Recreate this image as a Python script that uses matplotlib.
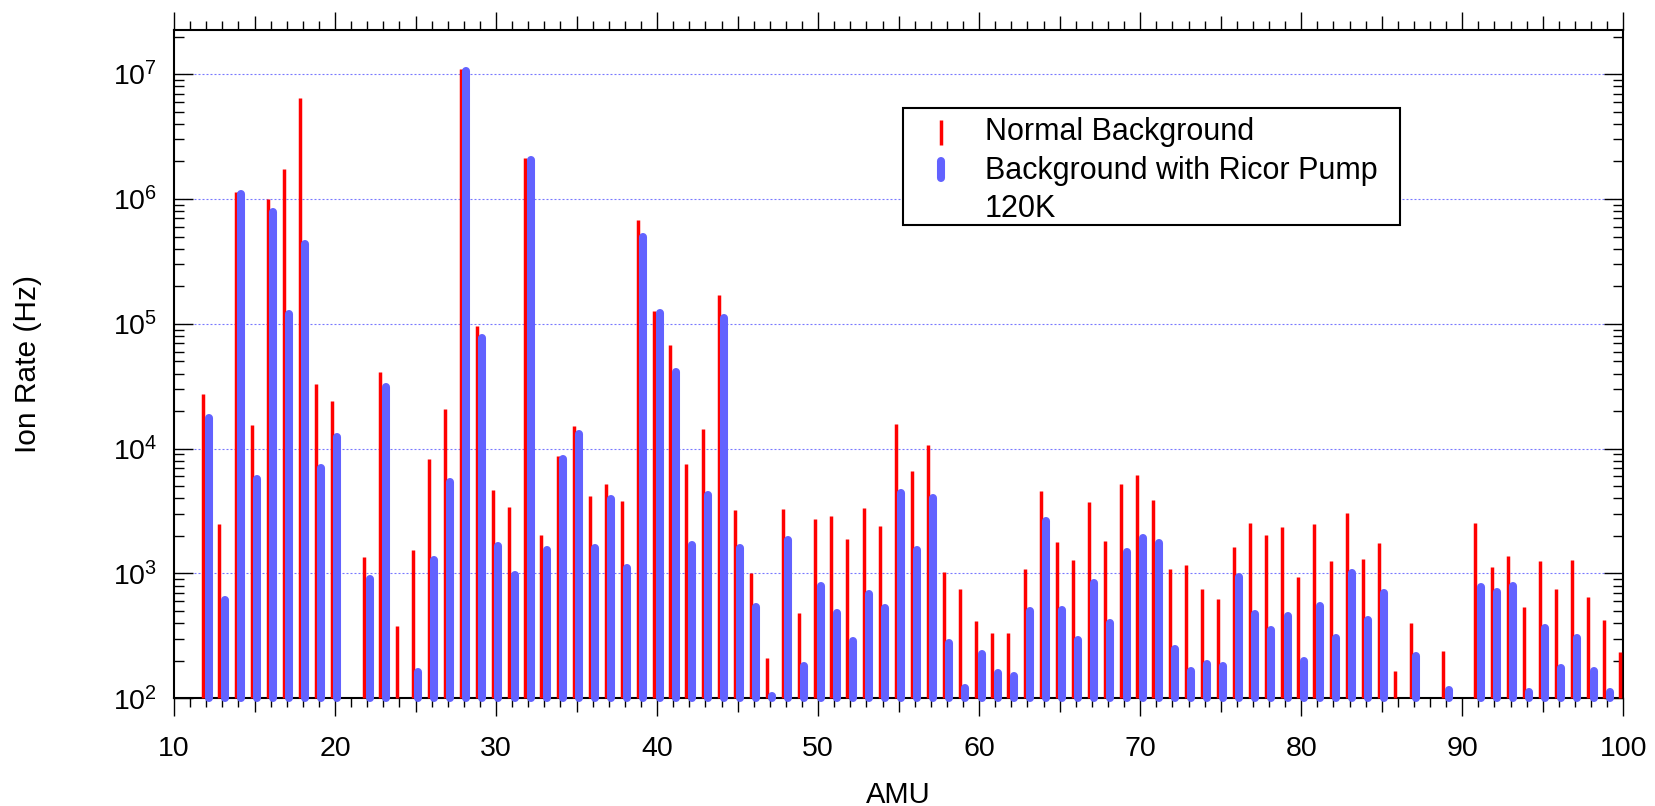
import numpy as np
import matplotlib
matplotlib.use("Agg")
import matplotlib.pyplot as plt
from matplotlib.ticker import MultipleLocator, FixedLocator, FuncFormatter, LogLocator, NullFormatter
from matplotlib.lines import Line2D
from matplotlib.patches import Rectangle

plt.rcParams['font.family'] = ['Liberation Sans', 'DejaVu Sans']
plt.rcParams['mathtext.fontset'] = 'custom'
plt.rcParams['mathtext.rm'] = 'Liberation Sans'
plt.rcParams['mathtext.it'] = 'Liberation Sans:italic'
plt.rcParams['mathtext.bf'] = 'Liberation Sans:bold'

nan = np.nan
amu = np.arange(12, 101)

# Normal Background (Hz)
normal_bg = [
    27200, 2470, 1.14e6, 15600, 1.0e6, 1.75e6, 6.5e6, 32700, 24000, nan,      # 12-21
    1360, 40900, 380, 1555, 8260, 20700, 1.11e7, 95300, 4700, 3420,           # 22-31
    2.15e6, 2025, 8690, 15200, 4180, 5250, 3810, 6.82e5, 1.27e5, 68200,       # 32-41
    7590, 14450, 1.69e5, 3210, 1012, 209, 3310, 479, 2755, 2910,              # 42-51
    1883, 3350, 2390, 15850, 6590, 10630, 1037, 753, 418, 331,                # 52-61
    331, 1096, 4560, 1792, 1279, 3770, 1814, 5190, 6120, 3910,                # 62-71
    1077, 1180, 745, 620, 1635, 2540, 2050, 2362, 929, 2483,                  # 72-81
    1256, 3077, 1318, 1758, 165, 398, nan, 239, nan, 2540,                    # 82-91
    1130, 1376, 535, 1262, 745, 1294, 643, 423, 236,                          # 92-100
]

# Background with Ricor Pump 120K (Hz)
ricor_bg = [
    17500, 615, 1.09e6, 5690, 7.9e5, 1.19e5, 4.37e5, 7060, 12300, nan,        # 12-21
    900, 31100, nan, 161, 1290, 5410, 1.07e7, 77400, 1670, 977,               # 22-31
    2.07e6, 1550, 8230, 13000, 1600, 3940, 1100, 5.0e5, 1.22e5, 41200,        # 32-41
    1700, 4260, 1.11e5, 1590, 535, 104, 1860, 182, 788, 479,                  # 42-51
    286, 684, 525, 4400, 1540, 4010, 279, 120, 227, 159,                      # 52-61
    151, 503, 2640, 512, 295, 843, 399, 1490, 1940, 1740,                     # 62-71
    247, 165, 189, 182, 930, 473, 353, 459, 200, 545,                         # 72-81
    304, 1000, 424, 693, nan, 219, nan, 116, nan, 782,                        # 82-91
    706, 798, 113, 365, 175, 304, 165, 113, nan,                              # 92-100
]

x_major = [10, 20, 30, 40, 50, 60, 70, 80, 90, 100]
series_labels = ["Normal Background", "Background with Ricor Pump", "120K"]

W, H = 1656, 806
fig = plt.figure(figsize=(W / 100, H / 100), dpi=100)

def fx(p):
    return p / W

def fy(p):
    return 1 - p / H

ax_l, ax_r, ax_t, ax_b = 174, 1623.3, 30, 698.3
ax = fig.add_axes([fx(ax_l), fy(ax_b), fx(ax_r - ax_l), (ax_b - ax_t) / H])

red_c = '#ff0000'
blue_c = '#6262ff'
base = 100

nb = np.array(normal_bg, dtype=float)
rb = np.array(ricor_bg, dtype=float)
m1 = ~np.isnan(nb)
m2 = ~np.isnan(rb)

ax.vlines(amu[m1] - 0.18, base, nb[m1], colors=red_c, linewidth=2.5,
          capstyle='butt', zorder=3, clip_on=False)
ax.vlines(amu[m2] + 0.15, base, rb[m2], colors=blue_c, linewidth=5.8,
          capstyle='round', zorder=4, clip_on=False)

ax.set_yscale('log')
ax.set_xlim(10, 100)
ax.set_ylim(100, 2.26e7)

# x ticks: majors at 5s (labels only at 10s), minors at 1s
xt5 = list(range(10, 101, 5))
ax.xaxis.set_major_locator(FixedLocator(xt5))
ax.xaxis.set_major_formatter(FuncFormatter(lambda v, p: f"{int(round(v))}" if int(round(v)) in x_major else ""))
ax.xaxis.set_minor_locator(MultipleLocator(1))
ax.tick_params(axis='x', which='major', direction='out', length=13, width=1.0,
               top=True, bottom=True, labeltop=False, labelsize=20.5, pad=14)
ax.tick_params(axis='x', which='minor', direction='out', length=6.5, width=1.0,
               top=True, bottom=True)
for t, loc in zip(ax.xaxis.get_major_ticks(), xt5):
    if loc % 10 != 0:
        t.tick1line.set_markersize(10)
        t.tick2line.set_markersize(10)

ax.yaxis.set_major_locator(LogLocator(base=10, numticks=20))
ax.yaxis.set_minor_locator(LogLocator(base=10, subs=np.arange(2, 10), numticks=50))
ax.yaxis.set_minor_formatter(NullFormatter())
ax.tick_params(axis='y', which='major', direction='in', length=13.7, width=1.0,
               left=True, right=True, labelsize=20.5, pad=12)
ax.tick_params(axis='y', which='minor', direction='in', length=7.2, width=1.0,
               left=True, right=True)

for s in ax.spines.values():
    s.set_linewidth(1.5)

ax.yaxis.grid(True, which='major', color='#7878ff', linestyle=(0, (1.8, 1.8)), linewidth=0.8)
ax.set_axisbelow(True)

fig.text(fx(27.8), fy((ax_t + ax_b) / 2), "Ion Rate (Hz)", rotation=90,
         ha='center', va='center', fontsize=21.5)
fig.text(fx((ax_l + ax_r) / 2), fy(803), "AMU", ha='center', va='baseline', fontsize=21)

# legend box
lx0, ly0, lx1, ly1 = 903, 108, 1400, 225
fig.add_artist(Rectangle((fx(lx0), fy(ly1)), fx(lx1 - lx0), (ly1 - ly0) / H,
                         transform=fig.transFigure, facecolor='white', edgecolor='black',
                         linewidth=1.5, zorder=10))
mx = 941
fig.add_artist(Line2D([fx(mx), fx(mx)], [fy(145), fy(120)], transform=fig.transFigure,
                      color=red_c, linewidth=2.5, solid_capstyle='butt', zorder=11))
fig.add_artist(Line2D([fx(mx), fx(mx)], [fy(178), fy(161)], transform=fig.transFigure,
                      color=blue_c, linewidth=5.8, solid_capstyle='round', zorder=11))
tx = 985
for lab, yy in zip(series_labels, [132, 171, 209]):
    fig.text(fx(tx), fy(yy), lab, ha='left', va='center', fontsize=22, zorder=12)

fig.savefig("out.png", dpi=100)
